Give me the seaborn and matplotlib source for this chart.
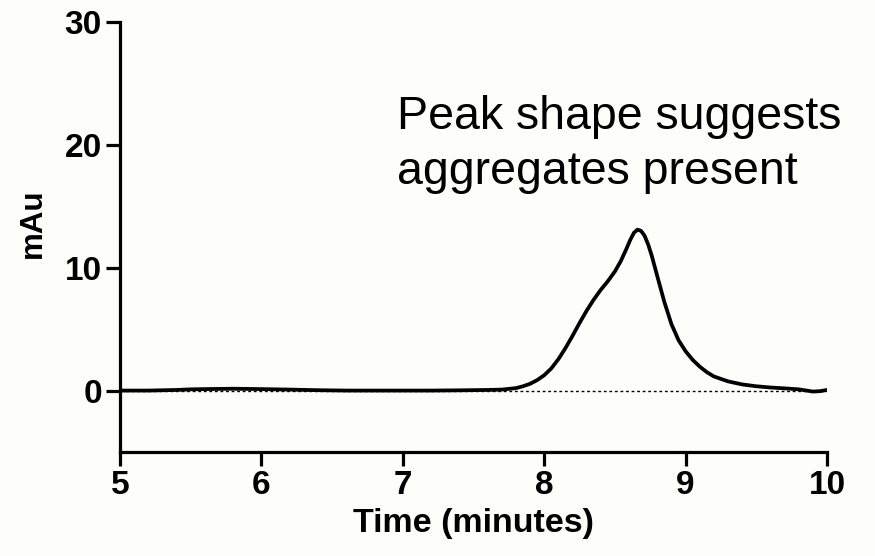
import matplotlib
matplotlib.use("Agg")
import matplotlib.pyplot as plt
import seaborn as sns
import pandas as pd

# ---- data ----
time_min = [5.0, 5.2, 5.4, 5.5, 5.6, 5.8, 6.0, 6.2, 6.4, 6.6, 6.8, 7.0, 7.2, 7.4,
            7.6, 7.7, 7.8, 7.85, 7.9, 7.95, 8.0, 8.05, 8.1, 8.15, 8.2, 8.25, 8.3,
            8.35, 8.4, 8.45, 8.5, 8.54, 8.58, 8.61, 8.635, 8.66, 8.685, 8.71,
            8.735, 8.76, 8.8, 8.85, 8.9, 8.95, 9.0, 9.05, 9.1, 9.15, 9.2, 9.3,
            9.4, 9.5, 9.6, 9.7, 9.8, 9.9, 9.95, 10.0]
mau = [0.0, 0.0, 0.05, 0.1, 0.12, 0.15, 0.12, 0.08, 0.03, 0.0, 0.0, 0.0, 0.0, 0.02,
       0.05, 0.08, 0.2, 0.35, 0.55, 0.85, 1.25, 1.8, 2.55, 3.45, 4.45, 5.5, 6.5,
       7.4, 8.2, 8.9, 9.7, 10.5, 11.5, 12.3, 12.85, 13.1, 13.0, 12.6,
       11.9, 11.0, 9.3, 7.2, 5.4, 4.1, 3.2, 2.5, 1.95, 1.5, 1.15, 0.75,
       0.5, 0.35, 0.25, 0.18, 0.1, -0.08, -0.05, 0.05]
x_ticks = [5, 6, 7, 8, 9, 10]
y_ticks = [0, 10, 20, 30]
x_label = "Time (minutes)"
y_label = "mAu"
note_lines = ["Peak shape suggests", "aggregates present"]

df = pd.DataFrame({"time": time_min, "mau": mau})

sns.set_style("ticks")
plt.rcParams["font.family"] = ["Liberation Sans", "DejaVu Sans"]

bg = "#fdfdfa"
fig = plt.figure(figsize=(8.75, 5.56), dpi=100, facecolor=bg)
ax = fig.add_axes([120 / 875, 1 - 452 / 556, 707 / 875, 430 / 556])
ax.set_facecolor(bg)

# dotted baseline at zero
ax.axhline(0, color="black", lw=1.0, ls=(0, (2, 2)), zorder=1)

sns.lineplot(data=df, x="time", y="mau", ax=ax, color="black", lw=2.7,
             solid_joinstyle="round", solid_capstyle="round", zorder=3)

ax.set_xlim(5, 10)
ax.set_ylim(-5, 30)
ax.set_xticks(x_ticks)
ax.set_yticks(y_ticks)
ax.set_xticklabels([str(t) for t in x_ticks], fontsize=24, fontweight="bold")
ax.set_yticklabels([str(t) for t in y_ticks], fontsize=24, fontweight="bold")
ax.set_xlabel(x_label, fontsize=24.5, fontweight="bold", labelpad=5, color="black")
ax.set_ylabel(y_label, fontsize=22.5, fontweight="bold", color="black")
ax.yaxis.set_label_coords(-0.102, 0.533)

for s in ["top", "right"]:
    ax.spines[s].set_visible(False)
for s in ["left", "bottom"]:
    ax.spines[s].set_linewidth(2.3)
    ax.spines[s].set_color("black")
ax.tick_params(axis="both", length=10, width=2.3, color="black", pad=3,
               labelcolor="black")

ax.text(6.96, 21.3, note_lines[0], fontsize=33.5, color="black", ha="left", va="baseline")
ax.text(6.96, 16.83, note_lines[1], fontsize=33.5, color="black", ha="left", va="baseline")

fig.savefig("out.png", dpi=100, facecolor=bg)
